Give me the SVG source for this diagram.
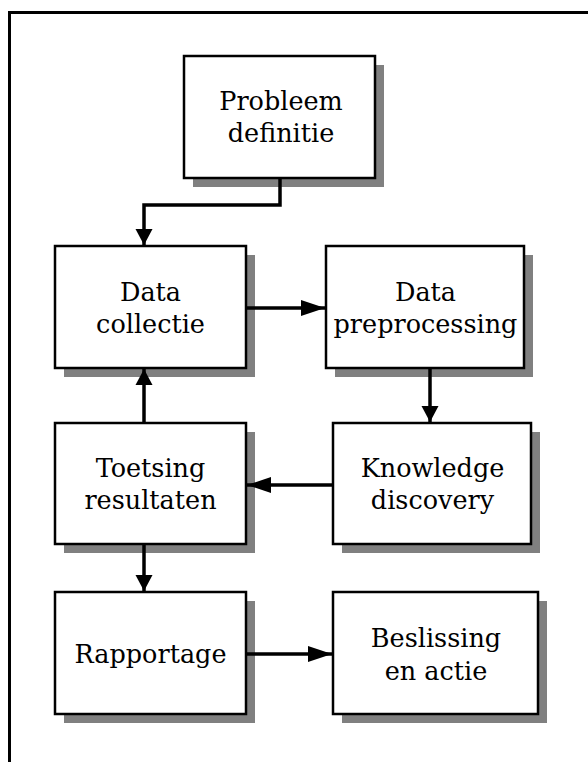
<svg xmlns="http://www.w3.org/2000/svg" width="588" height="762" viewBox="0 0 588 762">
<style>
.frame{fill:none;stroke:#000;stroke-width:3}
.shadow{fill:#808080}
.box{fill:#fff;stroke:#000;stroke-width:2.5}
.lbl{font-family:"DejaVu Serif","Liberation Serif",serif;font-size:25.5px;fill:#000;text-anchor:middle}
.conn{fill:none;stroke:#000;stroke-width:3.5}
</style>
<defs>
<marker id="av" markerUnits="userSpaceOnUse" markerWidth="16" markerHeight="18" refX="16" refY="8.5" orient="auto" overflow="visible"><path d="M0,0 L16,8.5 L0,17 z" fill="#000"/></marker>
<marker id="ah" markerUnits="userSpaceOnUse" markerWidth="24" markerHeight="16" refX="24" refY="8" orient="auto" overflow="visible"><path d="M0,0 L24,8 L0,16 z" fill="#000"/></marker>
</defs>
<rect width="588" height="762" fill="#fff"/>
<rect class="frame" x="9.5" y="12.5" width="620" height="800"/>
<g id="probleem">
<rect class="shadow" x="193" y="65" width="191" height="122"/>
<rect class="box" x="184" y="56" width="191" height="122"/>
<text class="lbl" x="281" y="110">Probleem</text>
<text class="lbl" x="281" y="142">definitie</text>
</g>
<g id="collectie">
<rect class="shadow" x="64" y="255" width="191" height="122"/>
<rect class="box" x="55" y="246" width="191" height="122"/>
<text class="lbl" x="150.5" y="301">Data</text>
<text class="lbl" x="150.5" y="333">collectie</text>
</g>
<g id="preprocessing">
<rect class="shadow" x="335" y="255" width="198" height="122"/>
<rect class="box" x="326" y="246" width="198" height="122"/>
<text class="lbl" x="425.5" y="301">Data</text>
<text class="lbl" x="425.5" y="333">preprocessing</text>
</g>
<g id="toetsing">
<rect class="shadow" x="64" y="432" width="191" height="121"/>
<rect class="box" x="55" y="423" width="191" height="121"/>
<text class="lbl" x="150.5" y="477">Toetsing</text>
<text class="lbl" x="150.5" y="509">resultaten</text>
</g>
<g id="knowledge">
<rect class="shadow" x="342" y="432" width="198" height="121"/>
<rect class="box" x="333" y="423" width="198" height="121"/>
<text class="lbl" x="432.5" y="477">Knowledge</text>
<text class="lbl" x="432.5" y="509">discovery</text>
</g>
<g id="rapportage">
<rect class="shadow" x="64" y="601" width="191" height="122"/>
<rect class="box" x="55" y="592" width="191" height="122"/>
<text class="lbl" x="150.5" y="663">Rapportage</text>
</g>
<g id="beslissing">
<rect class="shadow" x="342" y="601" width="205" height="122"/>
<rect class="box" x="333" y="592" width="205" height="122"/>
<text class="lbl" x="436" y="647">Beslissing</text>
<text class="lbl" x="436" y="680">en actie</text>
</g>
<g id="connectors">
<path class="conn" d="M280 179 V205 H144 V245" marker-end="url(#av)"/>
<path class="conn" d="M247 308 H325" marker-end="url(#ah)"/>
<path class="conn" d="M430 369 V422" marker-end="url(#av)"/>
<path class="conn" d="M332 485 H247" marker-end="url(#ah)"/>
<path class="conn" d="M144 422 V369" marker-end="url(#av)"/>
<path class="conn" d="M144 545 V591" marker-end="url(#av)"/>
<path class="conn" d="M247 654 H332" marker-end="url(#ah)"/>
</g>
</svg>
